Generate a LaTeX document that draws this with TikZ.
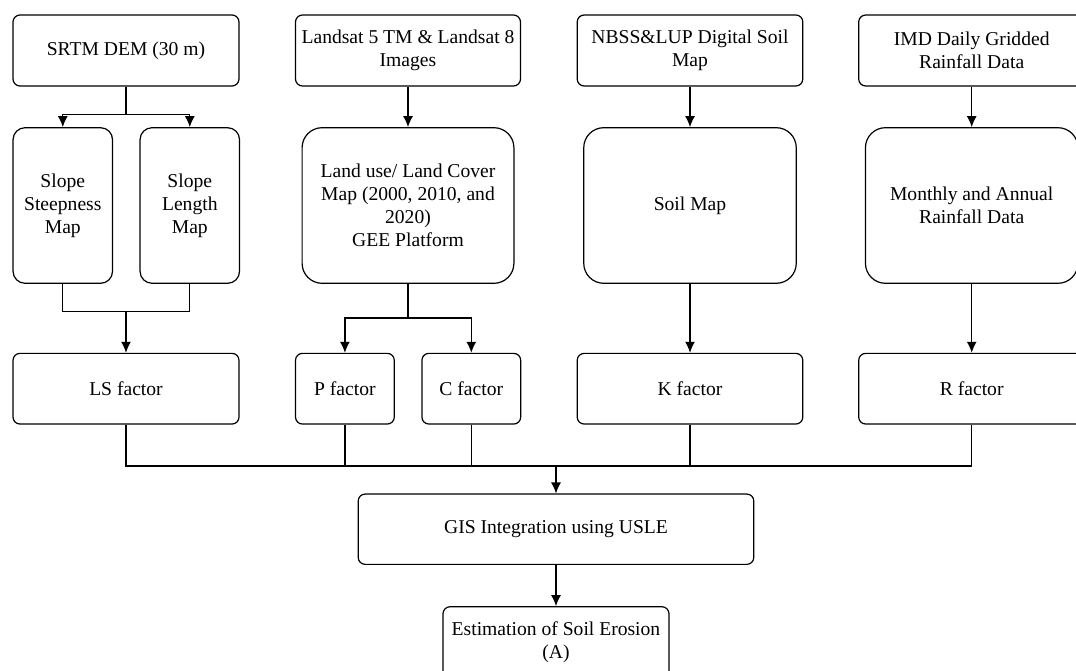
\documentclass[tikz,border=0pt]{standalone}
\usepackage{fontspec}
\setmainfont{Liberation Serif}
\usepackage{tikz}
\usetikzlibrary{arrows.meta}
\tikzstyle{block}=[draw, line width=1.2pt, rounded corners=7pt, align=center, inner sep=0pt, font=\fontsize{19.6}{23}\selectfont]
\tikzstyle{srcblock}=[block, minimum width=226pt, minimum height=71pt]
\tikzstyle{slopeblock}=[block, rounded corners=12pt, minimum width=99.5pt, minimum height=155.6pt]
\tikzstyle{mapblock}=[block, rounded corners=20pt, minimum width=212.5pt, minimum height=155.6pt]
\tikzstyle{facblock}=[block, minimum height=70.7pt]
\tikzstyle{arr}=[-{Latex[length=11pt,width=10pt]}]

\begin{document}
\begin{tikzpicture}[x=1pt, y=-1pt, line width=1.2pt]
        \useasboundingbox (0,0) rectangle (1076,671);
        \clip (0,0) rectangle (1076,671);
        % sources
        \node[srcblock]                          (srtm) at (126, 50.5) {SRTM DEM (30 m)};
        \node[srcblock, minimum width=225pt]     (landsat) at (408, 50.5) {Landsat 5 TM \& Landsat 8\\Images};
        \node[srcblock, minimum width=225.6pt]   (nbss) at (690, 50.5) {NBSS\&LUP Digital Soil\\Map};
        \node[srcblock]                          (imd) at (971.7, 50.5) {IMD Daily Gridded\\Rainfall Data};
        % maps
        \node[slopeblock]                        (steep) at (62.8, 205.5) {Slope\\Steepness\\Map};
        \node[slopeblock]                        (length) at (189.8, 205.5) {Slope\\Length\\Map};
        \node[mapblock, minimum width=211.8pt]   (landuse) at (408, 205.5) {Land use/ Land Cover\\Map (2000, 2010, and\\2020)\\GEE Platform};
        \node[mapblock]                          (soil) at (690, 205.5) {Soil Map};
        \node[mapblock]                          (monthly) at (971.7, 205.5) {Monthly and Annual\\Rainfall Data};
        % factors
        \node[facblock, minimum width=226pt]     (ls) at (126, 388.7) {LS factor};
        \node[facblock, minimum width=98.8pt]    (pfac) at (344.9, 388.7) {P factor};
        \node[facblock, minimum width=98.8pt]    (cfac) at (471.3, 388.7) {C factor};
        \node[facblock, minimum width=225.6pt]   (kfac) at (690, 388.7) {K factor};
        \node[facblock, minimum width=226pt]     (rfac) at (971.7, 388.7) {R factor};
        % results
        \node[block, minimum width=395.6pt, minimum height=70.3pt] (gis) at (556, 529.2) {GIS Integration using USLE};
        \node[block, minimum width=226pt, minimum height=71.3pt]   (erosion) at (556, 642.4) {Estimation of Soil Erosion\\(A)};
        \coordinate (split1) at (126, 114.3);
        \coordinate (merge1) at (126, 311.7);
        \coordinate (split2) at (408, 318);
        \coordinate (bus) at (556, 466);
        \draw (srtm) -- (split1);
        \draw[arr] (split1) -| (steep);
        \draw[arr] (split1) -| (length);
        \draw (steep) |- (merge1);
        \draw (length) |- (merge1);
        \draw[arr] (merge1) -- (ls);
        \draw[arr] (landsat) -- (landuse);
        \draw (landuse) -- (split2);
        \draw[arr] (split2) -| (pfac);
        \draw[arr] (split2) -| (cfac);
        \draw[arr] (nbss) -- (soil);
        \draw[arr] (soil) -- (kfac);
        \draw[arr] (imd) -- (monthly);
        \draw[arr] (monthly) -- (rfac);
        \draw (ls) |- (bus);
        \draw (pfac) |- (bus);
        \draw (cfac) |- (bus);
        \draw (kfac) |- (bus);
        \draw (rfac) |- (bus);
        \draw[arr] (bus) -- (gis);
        \draw[arr] (gis) -- (erosion);
    \end{tikzpicture}
\end{document}
